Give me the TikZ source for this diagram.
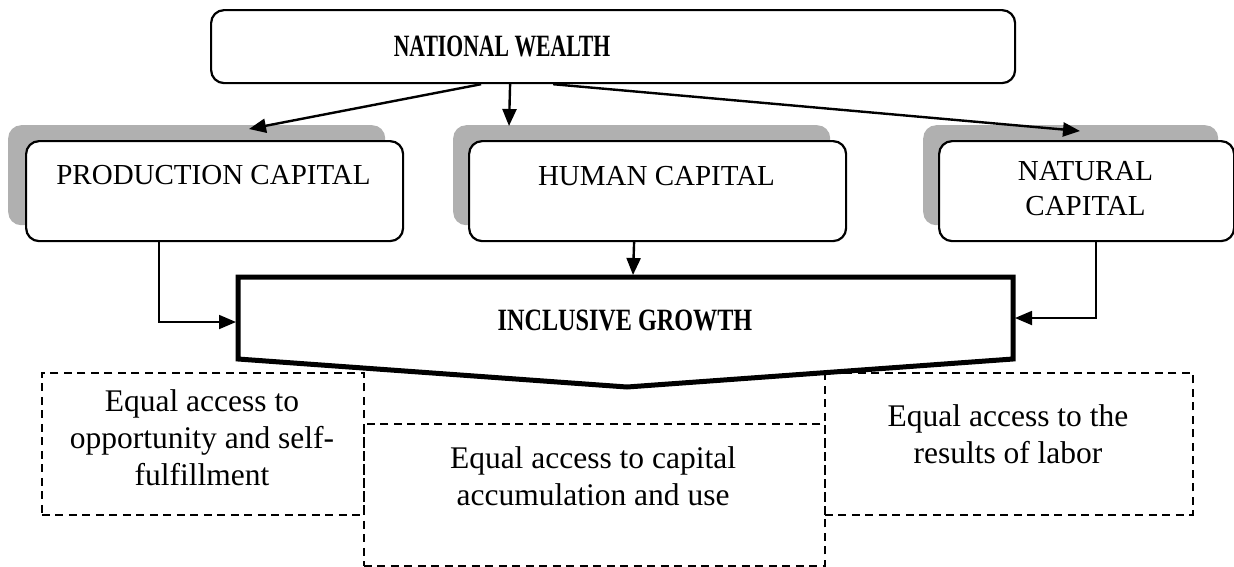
\documentclass[tikz,border=0pt]{standalone}
\usepackage{fontspec}
\usepackage{graphicx}
\setmainfont{Liberation Serif}
\usetikzlibrary{arrows.meta}
\begin{document}
\begin{tikzpicture}[x=1pt,y=-1pt,
  capbox/.style={draw, line width=2.2pt, rounded corners=13pt, fill=white, inner sep=0pt, anchor=north west},
  shadowbox/.style={fill=gray!62, rounded corners=13pt, inner sep=0pt, anchor=north west, draw=none},
  captext/.style={font=\fontsize{29}{35}\selectfont, align=center, inner sep=0pt},
  boldtext/.style={font=\bfseries\fontsize{31}{36}\selectfont, inner sep=0pt},
  dashbox/.style={draw, dash pattern=on 8pt off 5.5pt, line width=1.8pt, inner sep=0pt, anchor=north west},
  dashtext/.style={font=\fontsize{31.5}{37}\selectfont, align=center, inner sep=0pt},
  arr/.style={-{Triangle[length=17pt,width=14pt]}, line width=2.4pt},
  arrthin/.style={-{Triangle[length=17pt,width=14pt]}, line width=1.8pt},
]
\useasboundingbox (0,0) rectangle (1234,566);

% top box
\node[capbox, minimum width=804pt, minimum height=73pt] (nw) at (210,9) {};
\node[boldtext] (nwt) at (502,46) {\scalebox{0.70}[1]{NATIONAL WEALTH}};

% capital boxes with shadows
\node[shadowbox, minimum width=377pt, minimum height=100pt] (pcs) at (8,125) {};
\node[capbox, minimum width=377pt, minimum height=100pt] (pc) at (25,140) {};
\node[captext] (pct) at (213.5,175) {PRODUCTION CAPITAL};

\node[shadowbox, minimum width=377pt, minimum height=100pt] (hcs) at (453,125) {};
\node[capbox, minimum width=377pt, minimum height=100pt] (hc) at (468,140) {};
\node[captext] (hct) at (656.5,176) {HUMAN CAPITAL};

\node[shadowbox, minimum width=295pt, minimum height=100pt] (ncs) at (923,125) {};
\node[capbox, minimum width=295pt, minimum height=100pt] (nc) at (938,140) {};
\node[captext] (nct) at (1085.5,189) {NATURAL\\CAPITAL};

% arrow targets
\coordinate (pcIn) at (249,129);
\coordinate (hcIn) at (509,126);
\coordinate (ncIn) at (1080,131);

\draw[arr] ([xshift=-132pt]nw.south) -- (pcIn);
\draw[arr] ([xshift=-103pt]nw.south) -- (hcIn);
\draw[arr] ([xshift=-60pt]nw.south) -- (ncIn);

% dashed boxes
\node[dashbox, minimum width=322pt, minimum height=142pt] (d1) at (41,372) {};
\node[dashbox, minimum width=461pt, minimum height=142pt] (d2) at (363,423) {};
\node[dashbox, minimum width=368pt, minimum height=142pt] (d3) at (824,372) {};
\node[dashtext] (d1t) at (202,438) {Equal access to\\opportunity and self-\\fulfillment};
\node[dashtext] (d2t) at (593,476) {Equal access to capital\\accumulation and use};
\node[dashtext] (d3t) at (1008,434) {Equal access to the\\results of labor};

% inclusive growth shape
\coordinate (igA) at (238,277);
\coordinate (igB) at (1013,277);
\coordinate (igC) at (1013,359);
\coordinate (igD) at (627,387);
\coordinate (igE) at (238,359);
\draw[line width=5pt, line join=miter] (igA) -- (igB) -- (igC) -- (igD) -- (igE) -- cycle;
\node[boldtext] (igt) at (625,320) {\scalebox{0.78}[1]{INCLUSIVE GROWTH}};

\coordinate (igL) at (236,322);
\coordinate (igR) at (1015,318);
\coordinate (igT) at (633,275);

\draw[arrthin] ([xshift=-55.5pt]pc.south) |- (igL);
\draw[arrthin] ([xshift=9.5pt]nc.south) |- (igR);
\draw[arr] ([xshift=-23.5pt]hc.south) -- (igT);
\end{tikzpicture}
\end{document}
